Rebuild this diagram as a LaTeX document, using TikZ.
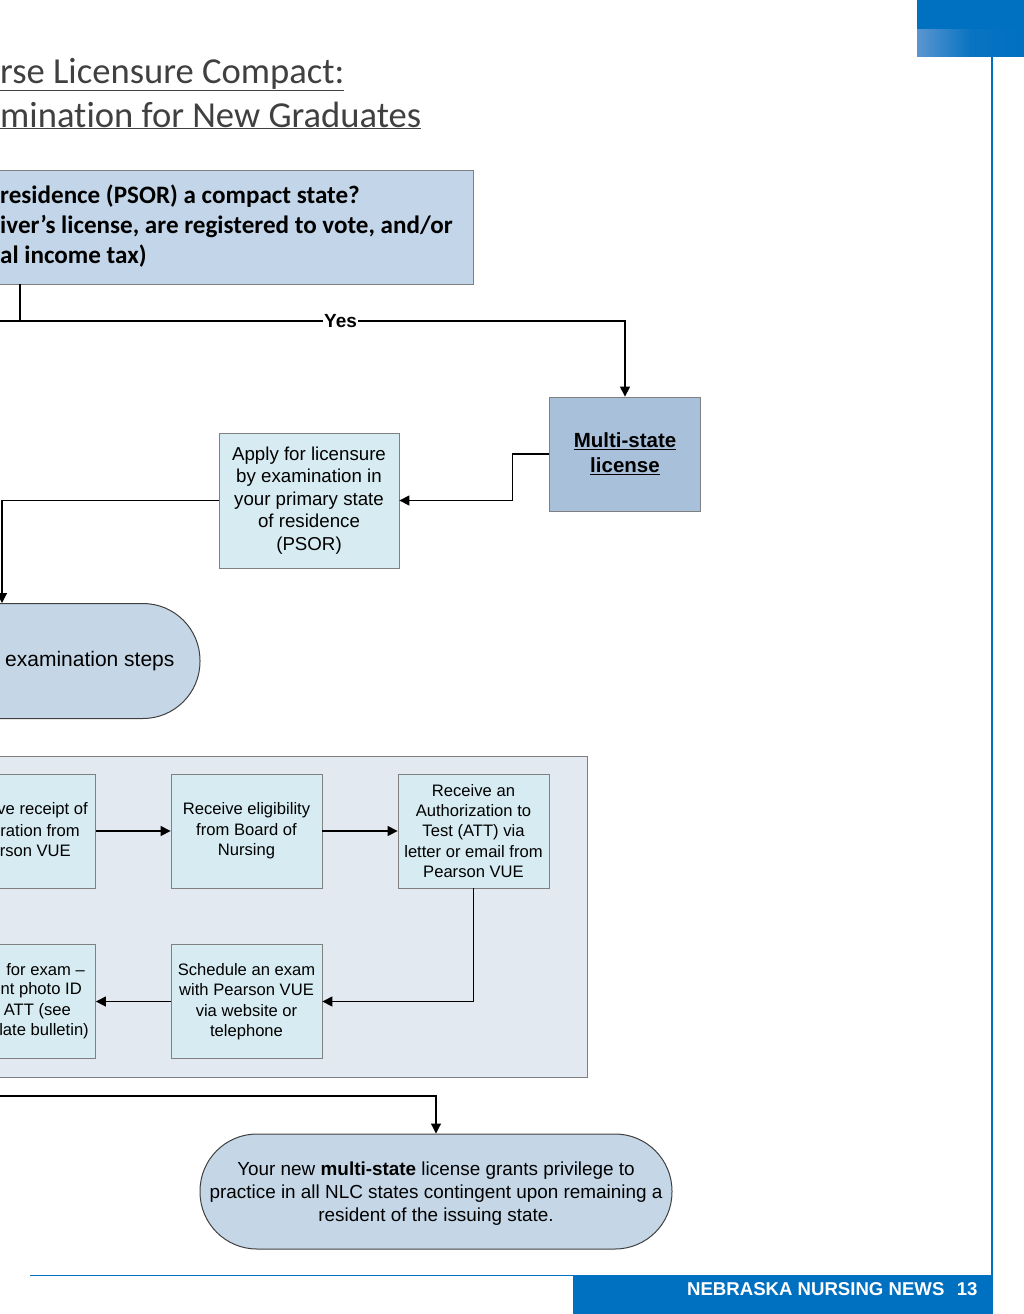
\documentclass[tikz,border=0pt]{standalone}
\usepackage{fontspec}
\setmainfont{Liberation Sans}
\newfontfamily\calibri[Ligatures=CommonOff]{Carlito}
\usetikzlibrary{arrows.meta}
\definecolor{nnblue}{HTML}{0070C0}
\definecolor{nnlight}{HTML}{5B95D0}
\definecolor{qbox}{HTML}{C3D5E8}
\definecolor{mbox}{HTML}{A9C0DB}
\definecolor{cbox}{HTML}{D7ECF2}
\definecolor{pillbg}{HTML}{C5D7E7}
\definecolor{panelbg}{HTML}{E3E9F1}
\definecolor{titlegray}{HTML}{404040}
\begin{document}
\begin{tikzpicture}[x=1pt,y=-1pt]
        \tikzstyle{flow}=[draw=black!50, line width=0.8pt, align=center, inner sep=0pt]
        \tikzstyle{pbox}=[flow, rectangle, fill=cbox, minimum width=151pt, minimum height=114pt, font=\fontsize{16.6}{20.4}\selectfont]
        \tikzstyle{pill}=[rectangle, draw=black!75, line width=1pt, fill=pillbg, minimum height=115pt, rounded corners=57pt]
        \tikzstyle{arr}=[line width=1.2pt, -{Triangle[length=10pt,width=10pt]}]
        \tikzstyle{crop}=[anchor=east, inner sep=0pt, font=\fontsize{16.6}{20.4}\selectfont]

        \useasboundingbox (0,0) rectangle (1024,1314);

        % page frame
        \fill[nnblue] (917,0) rectangle (1024,30);
        \shade[left color=nnlight, right color=nnblue, middle color=nnblue!90!nnlight] (917,30) rectangle (1024,57);
        \draw[nnblue, line width=1.8pt] (992,57) -- (992,1314);
        \draw[nnblue, line width=1pt] (30,1275) -- (573,1275);
        \fill[nnblue] (573,1275) rectangle (992,1314);
        \node[anchor=east, text=white, font=\bfseries\fontsize{18.6}{20}\selectfont] (mag) at (948,1289) {NEBRASKA NURSING NEWS};
        \node[anchor=east, text=white, font=\bfseries\fontsize{18.6}{20}\selectfont] (page) at (981,1289) {13};

        % title
        \node[anchor=base west, inner sep=0pt, text=titlegray, font=\calibri\fontsize{36.6}{44}\selectfont] (t1) at (0,83) {\underline{rse Licensure Compact:}};
        \node[anchor=base west, inner sep=0pt, text=titlegray, font=\calibri\fontsize{36.6}{44}\selectfont] (t2) at (0,127) {\underline{mination for New Graduates}};

        % question
        \node[flow, fill=qbox, minimum width=560pt, minimum height=114pt] (psor) at (193,227) {};
        \node[anchor=west, align=left, inner sep=0pt, font=\calibri\bfseries\fontsize{25.1}{30}\selectfont] (psortxt) at (0,226) {residence (PSOR) a compact state?\\iver’s license, are registered to vote, and/or\\al income tax)};

        \node[flow, fill=mbox, minimum width=151pt, minimum height=114pt, font=\bfseries\fontsize{20.5}{25}\selectfont] (multi) at (625,454) {\underline{Multi-state}\\\underline{license}};
        \node[flow, fill=cbox, minimum width=180pt, minimum height=135pt, font=\fontsize{18.7}{22.5}\selectfont] (apply) at (309,500.5) {Apply for licensure\\by examination in\\your primary state\\of residence\\(PSOR)};
        \node[pill, minimum width=400pt] (exam) at (0,661) {};
        \node[anchor=west, inner sep=0pt, font=\fontsize{21}{25}\selectfont] (examtxt) at (5,661) {examination steps};

        \coordinate (left1) at (0,321);
        \coordinate (knee1) at (20,321);
        \coordinate (c2) at (2,0);
        \draw[line width=1.2pt] (psor.south -| knee1) -- (knee1);
        \draw[arr] (left1) -- node[pos=0.545, fill=white, inner sep=1pt, font=\bfseries\fontsize{19}{20}\selectfont] {Yes} (multi.north |- left1) -- (multi.north);
        \draw[arr] (multi.west) -- ++(-37,0) |- (apply.east);
        \draw[arr] (apply.west) -| (c2 |- exam.north);

        % test steps
        \draw[draw=black!50, line width=0.8pt, fill=panelbg] (-5,756) rectangle (587,1077);
        \node[pbox] (reg) at (20,831) {};
        \node[crop] at (88,810) {ve receipt of};
        \node[crop] at (80,830.5) {ration from};
        \node[crop] at (71,851) {rson VUE};
        \node[pbox] (elig) at (246.5,831) {Receive eligibility\\from Board of\\Nursing};
        \node[pbox] (att) at (473.5,831) {Receive an\\Authorization to\\Test (ATT) via\\letter or email from\\Pearson VUE};
        \node[pbox] (sched) at (246.5,1001.5) {Schedule an exam\\with Pearson VUE\\via website or\\telephone};
        \node[pbox] (arrive) at (20,1001.5) {};
        \node[crop] at (85,970) {for exam –};
        \node[crop] at (82,990.5) {nt photo ID};
        \node[crop] at (71,1011) {ATT (see};
        \node[crop] at (89,1031) {late bulletin)};

        \draw[arr] (reg.east) -- (elig.west);
        \draw[arr] (elig.east) -- (att.west);
        \draw[arr] (att.south) |- (sched.east);
        \draw[arr] (sched.west) -- (arrive.east);

        % result
        \node[pill, minimum width=472pt] (final) at (436,1191.5) {};
        \node[align=center, inner sep=0pt, font=\fontsize{18.9}{23}\selectfont] (finaltxt) at ([yshift=-2pt]final.center) {Your new \textbf{multi-state} license grants privilege to\\practice in all NLC states contingent upon remaining a\\resident of the issuing state.};
        \coordinate (left3) at (0,1096);
        \draw[arr] (left3) -| (final.north);
\end{tikzpicture}
\end{document}
